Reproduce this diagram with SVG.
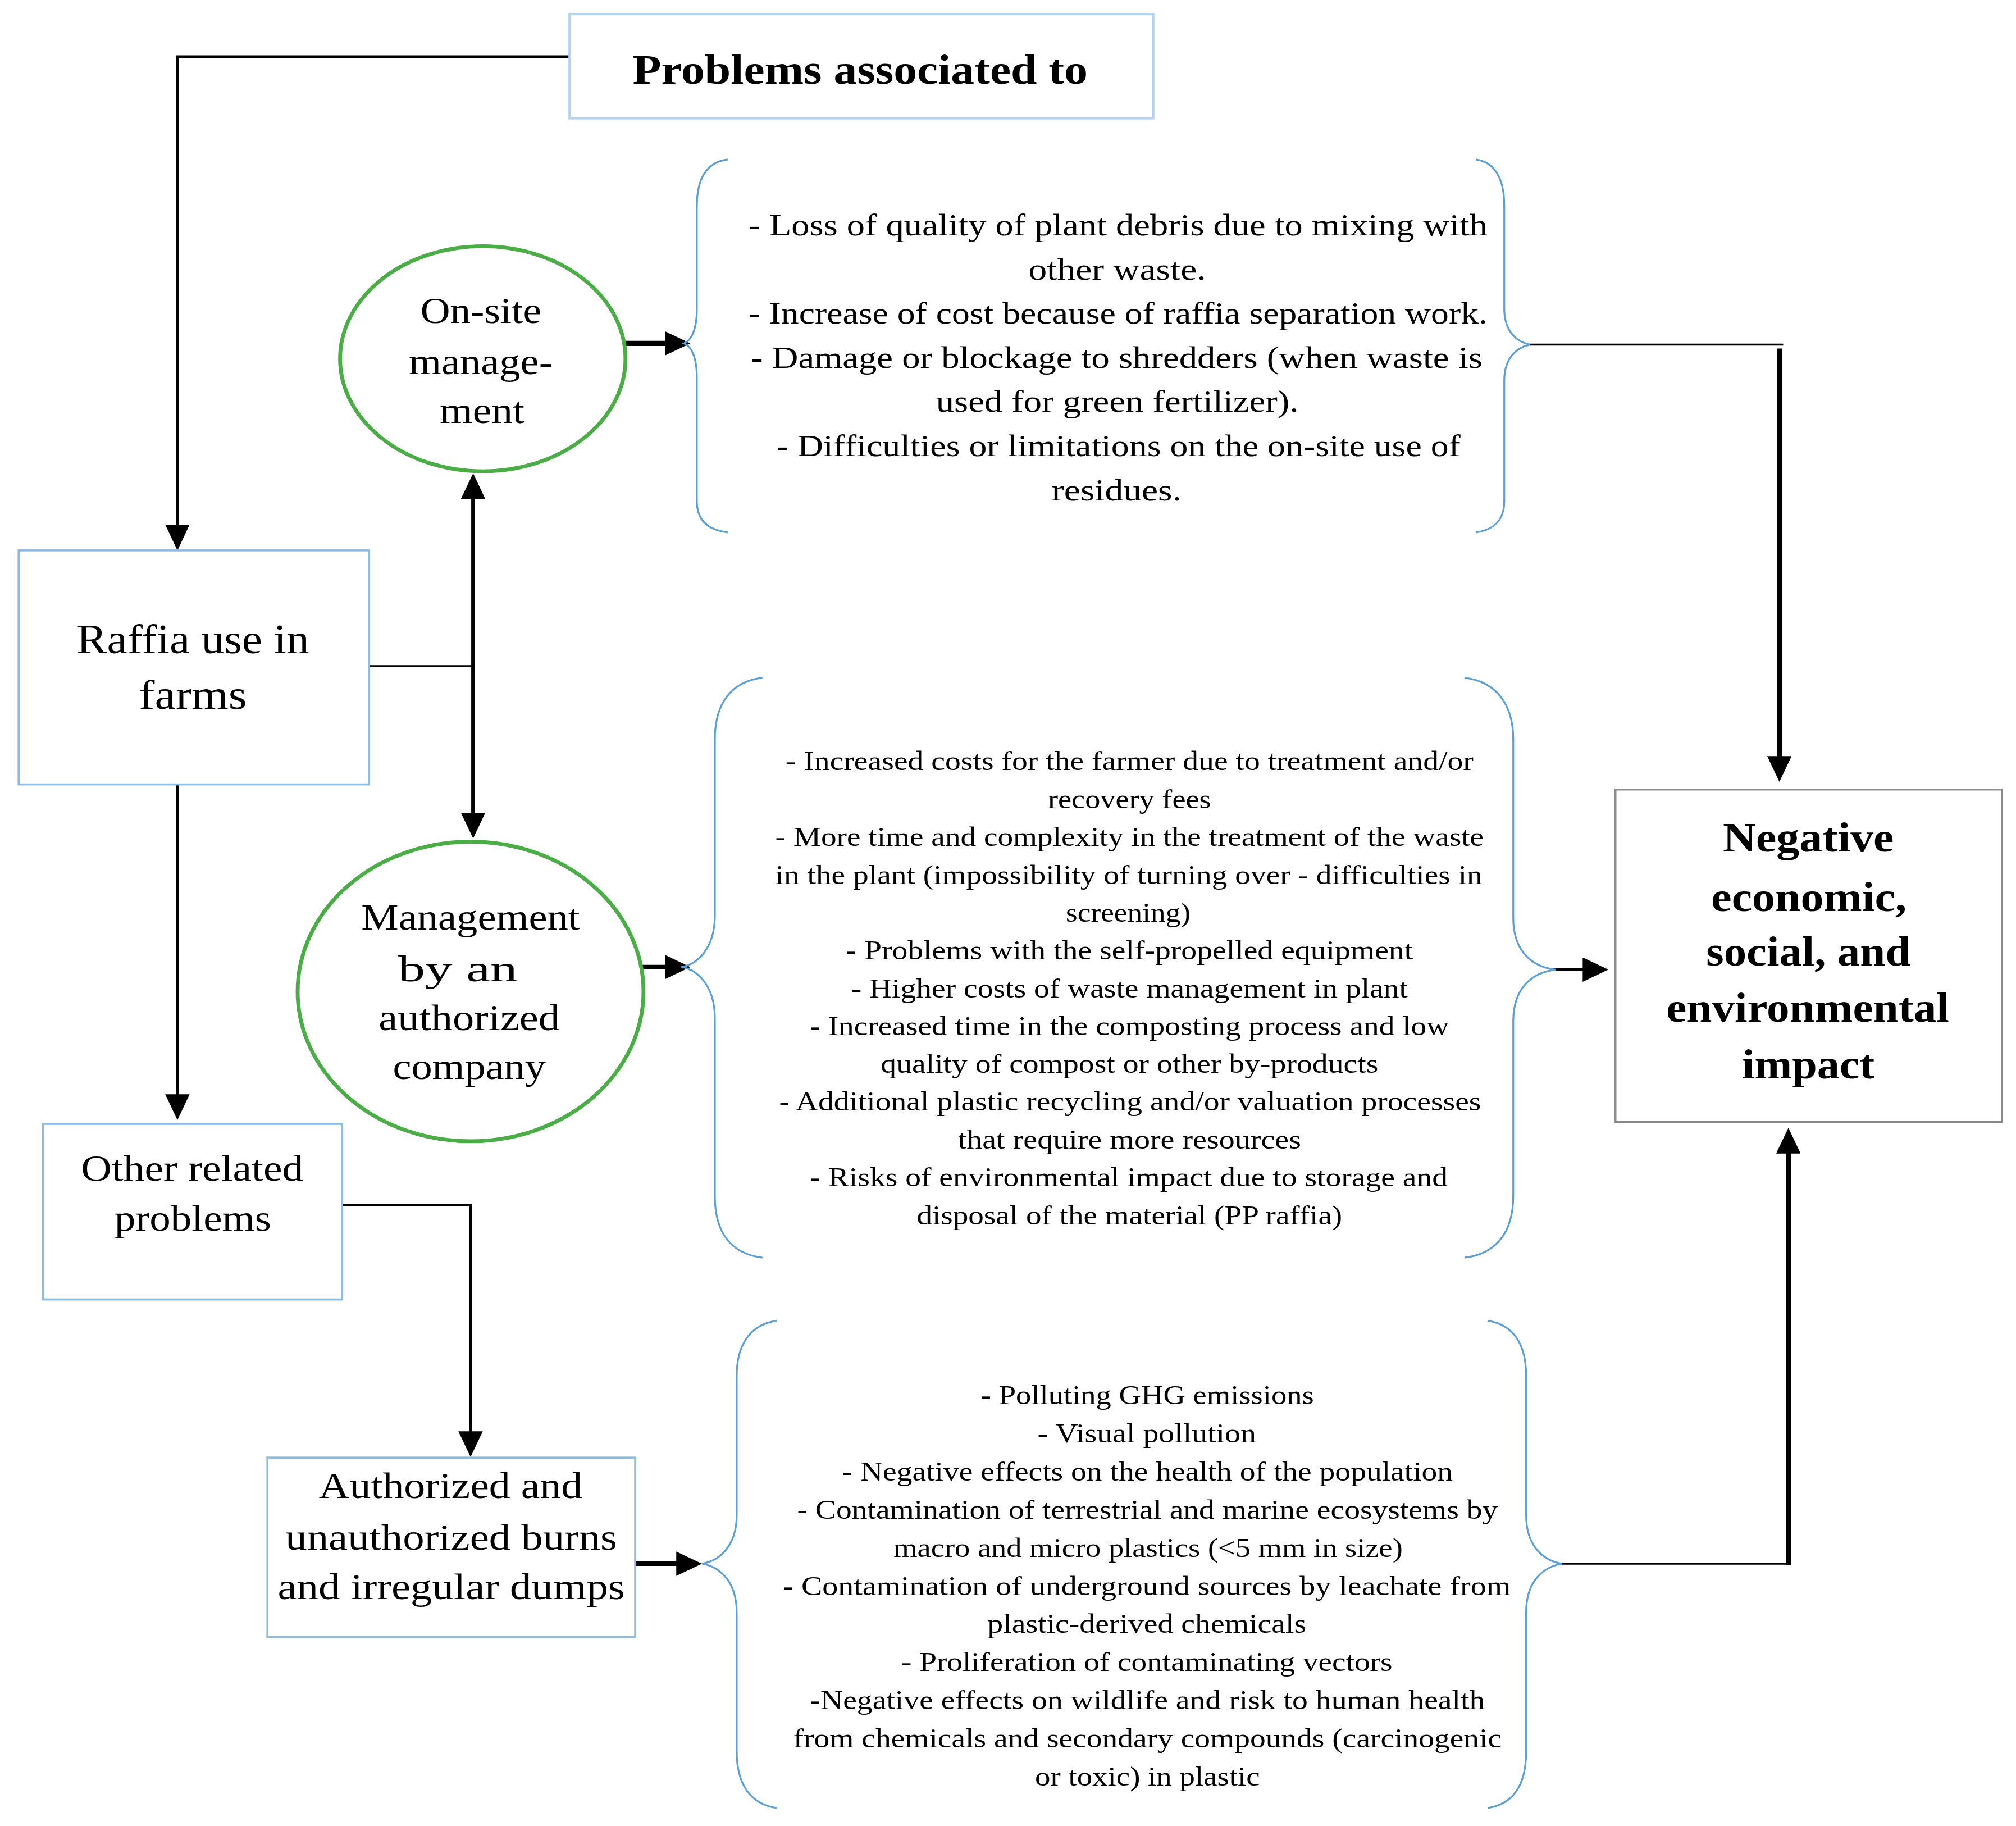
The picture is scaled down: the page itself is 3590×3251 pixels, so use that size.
<svg xmlns="http://www.w3.org/2000/svg" width="3590" height="3251" viewBox="0 0 3590 3251">
<defs>
<style>
.box{fill:#fff;stroke:#8dbde6;stroke-width:1.6}
.boxt{fill:#fff;stroke:#b5d3ef;stroke-width:1.8}
.boxg{fill:#fff;stroke:#8a8a8a;stroke-width:1.5}
.ell{fill:#fff;stroke:#4aad45;stroke-width:3}
.brace{fill:none;stroke:#5a9fd8;stroke-width:1.4}
.ln{fill:none;stroke:#000;stroke-linejoin:miter}
text{font-family:"Liberation Serif","Times New Roman",serif;fill:#000;text-anchor:middle}
.nt{font-size:29px}
.b1{font-size:24px}
.b2{font-size:21px}
.ttl{font-size:32px;font-weight:bold}
.neg{font-size:32px;font-weight:bold}
</style>
<marker id="ah" viewBox="0 0 20 19" refX="16" refY="9.5" markerWidth="20" markerHeight="19" markerUnits="userSpaceOnUse" orient="auto">
<path d="M0,0 L20,9.5 L0,19 z" fill="#000"/>
</marker>
</defs>
<rect width="3590" height="3251" fill="#fff"/>
<g transform="scale(2.2895)">
<g id="connectors">
<polyline class="ln" stroke-width="2" points="443,44 138,44 138,424" marker-end="url(#ah)"/>
<line class="ln" stroke-width="1.5" x1="285" y1="518" x2="368" y2="518"/>
<line class="ln" stroke-width="3" x1="368" y1="519" x2="368" y2="372" marker-end="url(#ah)"/>
<line class="ln" stroke-width="3" x1="368" y1="517" x2="368" y2="648" marker-end="url(#ah)"/>
<line class="ln" stroke-width="2.5" x1="138" y1="610" x2="138" y2="867" marker-end="url(#ah)"/>
<polyline class="ln" stroke-width="1.5" points="261,937 366,937"/>
<line class="ln" stroke-width="2.5" x1="366" y1="936" x2="366" y2="1129" marker-end="url(#ah)"/>
<line class="ln" stroke-width="4" x1="486" y1="267" x2="533" y2="267" marker-end="url(#ah)"/>
<line class="ln" stroke-width="3.5" x1="498" y1="752" x2="533" y2="752" marker-end="url(#ah)"/>
<line class="ln" stroke-width="3.5" x1="494" y1="1216" x2="542" y2="1216" marker-end="url(#ah)"/>
<polyline class="ln" stroke-width="1.5" points="1190,268 1387,268"/>
<line class="ln" stroke-width="4" x1="1384" y1="271" x2="1384" y2="604" marker-end="url(#ah)"/>
<line class="ln" stroke-width="2" x1="1206" y1="754" x2="1247" y2="754" marker-end="url(#ah)"/>
<polyline class="ln" stroke-width="1.5" points="1215,1216 1392,1216"/>
<line class="ln" stroke-width="4" x1="1391" y1="1217" x2="1391" y2="881" marker-end="url(#ah)"/>
</g>
<g id="problems">
<rect class="boxt" x="443" y="11" width="454" height="81"/>
<text class="ttl" x="669" y="65" textLength="354" lengthAdjust="spacingAndGlyphs">Problems associated to</text>
</g>
<g id="raffia">
<rect class="box" x="14.5" y="428" width="272.5" height="182"/>
<text class="nt" x="150" y="508" textLength="181" lengthAdjust="spacingAndGlyphs" style="font-size:32px">Raffia use in</text>
<text class="nt" x="150" y="551" textLength="84" lengthAdjust="spacingAndGlyphs" style="font-size:32px">farms</text>
</g>
<g id="onsite">
<ellipse class="ell" cx="375.5" cy="279" rx="111" ry="87.5"/>
<text class="nt" x="374" y="251" textLength="94" lengthAdjust="spacingAndGlyphs">On-site</text>
<text class="nt" x="374" y="291" textLength="112" lengthAdjust="spacingAndGlyphs">manage-</text>
<text class="nt" x="375" y="329" textLength="66" lengthAdjust="spacingAndGlyphs">ment</text>
</g>
<g id="management">
<ellipse class="ell" cx="366" cy="771" rx="134.5" ry="116.5"/>
<text class="nt" x="366" y="723" textLength="170" lengthAdjust="spacingAndGlyphs">Management</text>
<text class="nt" x="356" y="763" textLength="93" lengthAdjust="spacingAndGlyphs">by an</text>
<text class="nt" x="365" y="801" textLength="141" lengthAdjust="spacingAndGlyphs">authorized</text>
<text class="nt" x="365" y="839" textLength="119" lengthAdjust="spacingAndGlyphs">company</text>
</g>
<g id="other">
<rect class="box" x="33.5" y="874" width="232.5" height="136.5"/>
<text class="nt" x="149.5" y="918" textLength="173" lengthAdjust="spacingAndGlyphs">Other related</text>
<text class="nt" x="150" y="957" textLength="122" lengthAdjust="spacingAndGlyphs">problems</text>
</g>
<g id="burns">
<rect class="box" x="208" y="1133.5" width="286" height="139.5"/>
<text class="nt" x="350.5" y="1165" textLength="205" lengthAdjust="spacingAndGlyphs">Authorized and</text>
<text class="nt" x="351" y="1205" textLength="258" lengthAdjust="spacingAndGlyphs">unauthorized burns</text>
<text class="nt" x="351" y="1243.5" textLength="270" lengthAdjust="spacingAndGlyphs">and irregular dumps</text>
</g>
<g id="negative">
<rect class="boxg" x="1256.5" y="614" width="300.5" height="258.5"/>
<text class="neg" x="1406.5" y="662" textLength="133" lengthAdjust="spacingAndGlyphs">Negative</text>
<text class="neg" x="1407" y="708.5" textLength="152" lengthAdjust="spacingAndGlyphs">economic,</text>
<text class="neg" x="1406.5" y="751" textLength="159" lengthAdjust="spacingAndGlyphs">social, and</text>
<text class="neg" x="1406" y="794.5" textLength="220" lengthAdjust="spacingAndGlyphs">environmental</text>
<text class="neg" x="1406.5" y="838.5" textLength="103" lengthAdjust="spacingAndGlyphs">impact</text>
</g>
<g id="onsite-problems">
<path class="brace" d="M566,124 C550,126 542,138 542,160 L542,240 C542,258 537,265 532,267 C537,269 542,276 542,294 L542,390 C542,404 550,412 566,414"/>
<path class="brace" d="M1148,124 C1162,126 1170,138 1170,160 L1170,240 C1170,258 1180,266 1190,268 C1180,270 1170,278 1170,296 L1170,390 C1170,404 1162,412 1148,414"/>
<text class="b1" x="869.5" y="183" textLength="575" lengthAdjust="spacingAndGlyphs">- Loss of quality of plant debris due to mixing with</text>
<text class="b1" x="869" y="217.3" textLength="138" lengthAdjust="spacingAndGlyphs">other waste.</text>
<text class="b1" x="869.5" y="251.7" textLength="575" lengthAdjust="spacingAndGlyphs">- Increase of cost because of raffia separation work.</text>
<text class="b1" x="868.5" y="286" textLength="569" lengthAdjust="spacingAndGlyphs">- Damage or blockage to shredders (when waste is</text>
<text class="b1" x="869" y="320.3" textLength="282" lengthAdjust="spacingAndGlyphs">used for green fertilizer).</text>
<text class="b1" x="870" y="354.7" textLength="532" lengthAdjust="spacingAndGlyphs">- Difficulties or limitations on the on-site use of</text>
<text class="b1" x="868.5" y="389" textLength="101" lengthAdjust="spacingAndGlyphs">residues.</text>
</g>
<g id="company-problems">
<path class="brace" d="M593,527 C568,530 556,548 556,575 L556,712 C556,738 542,750 530,752 C542,754 556,766 556,792 L556,930 C556,958 568,975 593,978"/>
<path class="brace" d="M1139,527 C1164,530 1177,548 1177,575 L1177,714 C1177,740 1192,752 1210,754 C1192,756 1177,768 1177,794 L1177,930 C1177,958 1164,975 1139,978"/>
<text class="b2" x="878.5" y="599" textLength="535" lengthAdjust="spacingAndGlyphs">- Increased costs for the farmer due to treatment and/or</text>
<text class="b2" x="878.5" y="628.4" textLength="127" lengthAdjust="spacingAndGlyphs">recovery fees</text>
<text class="b2" x="878.5" y="657.8" textLength="551" lengthAdjust="spacingAndGlyphs">- More time and complexity in the treatment of the waste</text>
<text class="b2" x="878" y="687.3" textLength="550" lengthAdjust="spacingAndGlyphs">in the plant (impossibility of turning over - difficulties in</text>
<text class="b2" x="877.5" y="716.7" textLength="97" lengthAdjust="spacingAndGlyphs">screening)</text>
<text class="b2" x="878.5" y="746.1" textLength="441" lengthAdjust="spacingAndGlyphs">- Problems with the self-propelled equipment</text>
<text class="b2" x="878.5" y="775.5" textLength="433" lengthAdjust="spacingAndGlyphs">- Higher costs of waste management in plant</text>
<text class="b2" x="878.5" y="804.9" textLength="497" lengthAdjust="spacingAndGlyphs">- Increased time in the composting process and low</text>
<text class="b2" x="878.5" y="834.3" textLength="387" lengthAdjust="spacingAndGlyphs">quality of compost or other by-products</text>
<text class="b2" x="879" y="863.7" textLength="546" lengthAdjust="spacingAndGlyphs">- Additional plastic recycling and/or valuation processes</text>
<text class="b2" x="878.5" y="893.2" textLength="267" lengthAdjust="spacingAndGlyphs">that require more resources</text>
<text class="b2" x="878" y="922.6" textLength="496" lengthAdjust="spacingAndGlyphs">- Risks of environmental impact due to storage and</text>
<text class="b2" x="878.5" y="952" textLength="331" lengthAdjust="spacingAndGlyphs">disposal of the material (PP raffia)</text>
</g>
<g id="burn-problems">
<path class="brace" d="M604,1027 C584,1030 573,1045 573,1070 L573,1178 C573,1204 558,1214 546,1216 C558,1218 573,1228 573,1254 L573,1362 C573,1388 584,1403 604,1406"/>
<path class="brace" d="M1157,1027 C1177,1030 1187,1045 1187,1070 L1187,1178 C1187,1204 1202,1214 1215,1216 C1202,1218 1187,1228 1187,1254 L1187,1362 C1187,1388 1177,1403 1157,1406"/>
<text class="b2" x="892.5" y="1092" textLength="259" lengthAdjust="spacingAndGlyphs">- Polluting GHG emissions</text>
<text class="b2" x="892" y="1121.7" textLength="170" lengthAdjust="spacingAndGlyphs">- Visual pollution</text>
<text class="b2" x="892.5" y="1151.3" textLength="475" lengthAdjust="spacingAndGlyphs">- Negative effects on the health of the population</text>
<text class="b2" x="892.5" y="1181" textLength="545" lengthAdjust="spacingAndGlyphs">- Contamination of terrestrial and marine ecosystems by</text>
<text class="b2" x="893" y="1210.6" textLength="396" lengthAdjust="spacingAndGlyphs">macro and micro plastics (&lt;5 mm in size)</text>
<text class="b2" x="892" y="1240.3" textLength="566" lengthAdjust="spacingAndGlyphs">- Contamination of underground sources by leachate from</text>
<text class="b2" x="892" y="1269.9" textLength="248" lengthAdjust="spacingAndGlyphs">plastic-derived chemicals</text>
<text class="b2" x="892" y="1299.6" textLength="382" lengthAdjust="spacingAndGlyphs">- Proliferation of contaminating vectors</text>
<text class="b2" x="892.5" y="1329.2" textLength="525" lengthAdjust="spacingAndGlyphs">-Negative effects on wildlife and risk to human health</text>
<text class="b2" x="892.5" y="1358.9" textLength="551" lengthAdjust="spacingAndGlyphs">from chemicals and secondary compounds (carcinogenic</text>
<text class="b2" x="892.5" y="1388.5" textLength="175" lengthAdjust="spacingAndGlyphs">or toxic) in plastic</text>
</g>
</g>
</svg>
